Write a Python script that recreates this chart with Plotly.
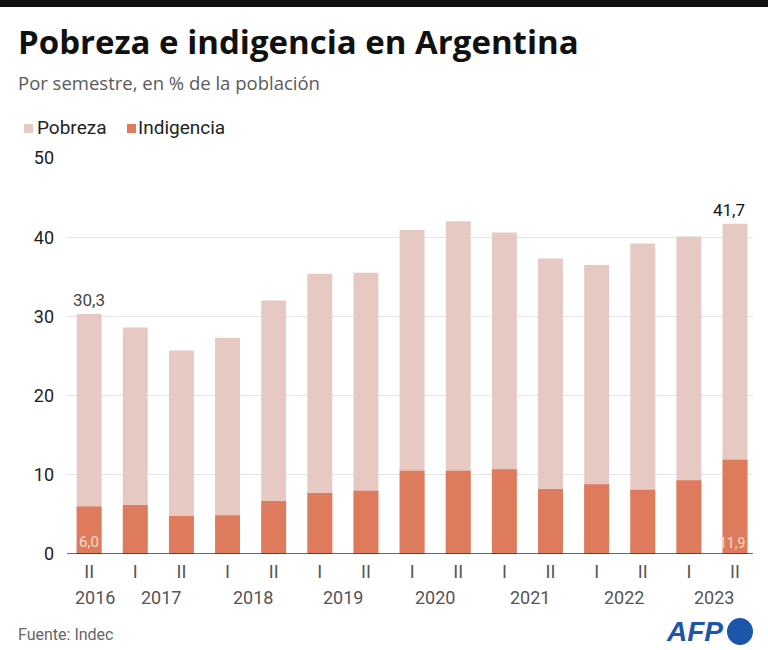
import plotly.graph_objects as go

semesters = ["II", "I", "II", "I", "II", "I", "II", "I", "II", "I", "II", "I", "II", "I", "II"]
years = ["2016", "2017", "2018", "2019", "2020", "2021", "2022", "2023"]
year_pos = [0.12, 1.55, 3.55, 5.5, 7.5, 9.55, 11.6, 13.55]
pobreza = [30.3, 28.6, 25.7, 27.3, 32.0, 35.4, 35.5, 40.9, 42.0, 40.6, 37.3, 36.5, 39.2, 40.1, 41.7]
indigencia = [6.0, 6.2, 4.8, 4.9, 6.7, 7.7, 8.0, 10.5, 10.5, 10.7, 8.2, 8.8, 8.1, 9.3, 11.9]
yticks = [0, 10, 20, 30, 40, 50]

W, H = 768, 650
ML, MR, MT, MB = 67, 15, 158, 96
PW, PH = W - ML - MR, H - MT - MB

def px(x):
    return (x - ML) / PW

def py(y):
    return (H - MB - y) / PH

FONT = "Roboto, sans-serif"
TFONT = "Open Sans, sans-serif"
C_POB = "#e6c9c3"
C_IND = "#de7b5c"
BW = 0.54

xs = list(range(len(pobreza)))
fig = go.Figure()
fig.add_trace(go.Bar(x=xs, y=pobreza, name="Pobreza", marker=dict(color=C_POB, line=dict(width=0)),
                     width=BW, showlegend=False))
fig.add_trace(go.Bar(x=xs, y=indigencia, name="Indigencia", marker=dict(color=C_IND, line=dict(width=0)),
                     width=BW, showlegend=False))

def fmt(v):
    return f"{v:.1f}".replace(".", ",")

ann = []
# value labels
ann.append(dict(x=xs[0], y=pobreza[0], text=fmt(pobreza[0]), showarrow=False,
                yanchor="bottom", yshift=2, font=dict(size=17, color="#444", family=FONT)))
ann.append(dict(x=xs[-1] + BW / 2, y=pobreza[-1], text=fmt(pobreza[-1]), showarrow=False,
                xanchor="right", yanchor="bottom", yshift=2, font=dict(size=17, color="#111", family=FONT)))
ann.append(dict(x=xs[0], y=0, text=fmt(indigencia[0]), showarrow=False,
                yanchor="bottom", yshift=1, font=dict(size=15, color="#f6ddd3", family=FONT)))
ann.append(dict(x=xs[-1] + BW / 2, y=0, text=fmt(indigencia[-1]), showarrow=False,
                xanchor="right", yanchor="bottom", yshift=1, font=dict(size=14, color="#f6ddd3", family=FONT)))
# year labels
for yr, p in zip(years, year_pos):
    ann.append(dict(x=p, y=py(597), yref="paper", text=yr, showarrow=False, yanchor="middle",
                    font=dict(size=18, color="#555", family=FONT)))
# title etc.
ann.append(dict(x=px(16), y=py(42), xref="paper", yref="paper", text="<b>Pobreza e indigencia en Argentina</b>",
                showarrow=False, xanchor="left", yanchor="middle", font=dict(size=33, color="#111", family=TFONT)))
ann.append(dict(x=px(16), y=py(82), xref="paper", yref="paper", text="Por semestre, en % de la población",
                showarrow=False, xanchor="left", yanchor="middle",
                font=dict(size=18.5, color="#5a5a5a", family=TFONT)))
ann.append(dict(x=px(35), y=py(127), xref="paper", yref="paper", text="Pobreza",
                showarrow=False, xanchor="left", yanchor="middle", font=dict(size=19, color="#222", family=FONT)))
ann.append(dict(x=px(136), y=py(127), xref="paper", yref="paper", text="Indigencia",
                showarrow=False, xanchor="left", yanchor="middle", font=dict(size=19, color="#222", family=FONT)))
ann.append(dict(x=px(16), y=py(634), xref="paper", yref="paper", text="Fuente: Indec",
                showarrow=False, xanchor="left", yanchor="middle", font=dict(size=16, color="#666", family=FONT)))
ann.append(dict(x=px(725), y=py(631), xref="paper", yref="paper", text="<b><i>AFP</i></b>",
                showarrow=False, xanchor="right", yanchor="middle",
                font=dict(size=28, color="#1b56a8", family="Liberation Sans, Arial, sans-serif")))

shapes = [
    dict(type="rect", xref="paper", yref="paper", x0=px(0), x1=px(W), y0=py(0), y1=py(7),
         fillcolor="#111", line=dict(width=0)),
    dict(type="rect", xref="paper", yref="paper", x0=px(24), x1=px(33), y0=py(124), y1=py(133),
         fillcolor=C_POB, line=dict(width=0)),
    dict(type="rect", xref="paper", yref="paper", x0=px(127), x1=px(136), y0=py(124), y1=py(133),
         fillcolor=C_IND, line=dict(width=0)),
    dict(type="circle", xref="paper", yref="paper", x0=px(727), x1=px(753), y0=py(618), y1=py(645),
         fillcolor="#1b56a8", line=dict(width=0)),
    dict(type="line", xref="paper", yref="y", x0=0, x1=1, y0=0, y1=0, line=dict(color="#333", width=1.5)),
]

fig.update_layout(
    width=W, height=H, margin=dict(l=ML, r=MR, t=MT, b=MB),
    paper_bgcolor="white", plot_bgcolor="white", barmode="overlay",
    font=dict(family=FONT),
    annotations=ann, shapes=shapes,
    xaxis=dict(range=[-0.48, 14.39], tickmode="array", tickvals=xs, ticktext=semesters,
               showgrid=False, zeroline=False, showline=False, ticks="", ticklabelstandoff=5,
               tickfont=dict(size=18, color="#555", family=FONT)),
    yaxis=dict(range=[0, 50], tickvals=yticks, showgrid=True, gridcolor="#e4e4e4", gridwidth=1,
               zeroline=False, showline=False, ticks="", ticklabelstandoff=12,
               tickfont=dict(size=18, color="#222", family=FONT)),
)
fig.write_html("out.html")
